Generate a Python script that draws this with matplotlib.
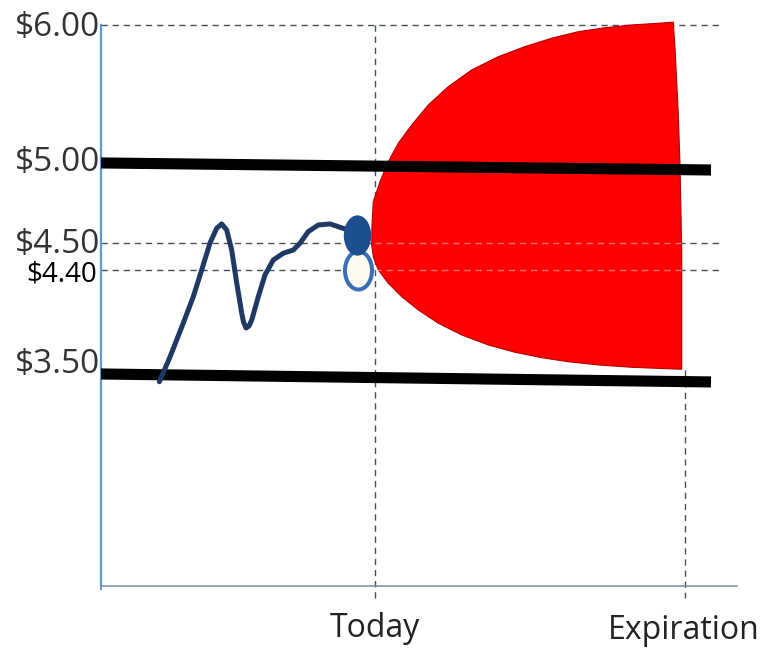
import numpy as np
import matplotlib.pyplot as plt
from matplotlib.markers import MarkerStyle
from matplotlib.path import Path
from matplotlib.transforms import Affine2D

plt.rcParams['font.family'] = ['Open Sans', 'DejaVu Sans']

# price levels marked on the left
tick_prices = [6.00, 5.00, 4.50, 4.40, 3.50]
tick_labels = ["$6.00", "$5.00", "$4.50", "$4.40", "$3.50"]

# days relative to today
today = 0.0
expiration = 31.0

# stock price history up to today
hist_days = [-21.57, -20.5, -19.17, -18.17, -17.33, -16.5, -15.83, -15.33, -14.83,
             -14.33, -13.83, -13.33, -13.15, -12.9, -12.6, -12.33, -11.67, -11.0,
             -10.17, -9.17, -8.17, -7.5, -6.67, -5.67, -4.5, -3.5, -2.67]
hist_price = [3.433, 3.647, 3.941, 4.169, 4.40, 4.50, 4.592, 4.619, 4.581,
              4.474, 4.2875, 4.028, 3.95, 3.898, 3.915, 3.967, 4.169, 4.357,
              4.437, 4.462, 4.474, 4.499, 4.571, 4.6125, 4.619, 4.598, 4.581]

current_day, current_price = -1.8, 4.55
alt_day, alt_price = -1.7, 4.40

# range of possible prices until expiration (outline of the red cone)
cone_days = [-0.33, -0.3, -0.17, 0.5, 1.33, 2.33, 3.67, 5.33, 7.33, 9.67, 12.33,
             15.0, 17.67, 20.33, 23.0, 25.67, 28.33, 29.83,
             30.0, 30.17, 30.33, 30.5, 30.6, 30.67, 30.67, 30.67,
             29.0, 25.67, 22.33, 19.33, 16.67, 14.0, 11.33, 8.67, 6.33, 4.33,
             2.67, 1.33, 0.33, -0.17]
cone_price = [4.493, 4.6125, 4.758, 4.883, 5.009, 5.143, 5.275, 5.420, 5.553,
              5.674, 5.770, 5.843, 5.904, 5.951, 5.980, 6.000, 6.012, 6.020,
              5.833, 5.589, 5.348, 4.988, 4.675, 4.463, 3.967, 3.541,
              3.546, 3.558, 3.578, 3.606, 3.641, 3.688, 3.751, 3.838, 3.939, 4.054,
              4.169, 4.285, 4.40, 4.449]

# strike lines (slightly tilted)
strike_days = [-27.4, 33.6]
strike_hi = [5.00, 4.956]
strike_lo = [3.50, 3.431]

# piecewise vertical scale for the price axis
price_knots = [-50.0, 1.665, 3.50, 4.40, 4.50, 5.00, 6.00, 50.0]
height_knots = [-5970.4, 0.0, 212.0, 316.0, 343.0, 423.0, 561.0, 6633.0]


def forward(p):
    return np.interp(p, price_knots, height_knots)


def inverse(h):
    return np.interp(h, height_knots, price_knots)


fig = plt.figure(figsize=(7.66, 6.52), dpi=100)
ax = fig.add_axes([101 / 766, 66 / 652, 636 / 766, 571 / 652])
ax.set_yscale('function', functions=(forward, inverse))
ax.set_xlim(-27.4, 36.2)
ax.set_ylim(1.665, 6.072)
ax.set_xticks([])
ax.set_yticks([])
ax.minorticks_off()

for s in ['top', 'right']:
    ax.spines[s].set_visible(False)
ax.spines['left'].set_color('#5b9bd5')
ax.spines['left'].set_linewidth(1.6)
ax.spines['left'].set_bounds(1.64, 6.00)
ax.spines['bottom'].set_color('#7d8994')
ax.spines['bottom'].set_linewidth(1.1)

dash = (0, (4.5, 3.5))
gridc = '#46505a'
for p in [6.00, 4.50, 4.40]:
    ax.plot([-27.4, 34.5], [p, p], color=gridc, lw=1.0, ls=dash, zorder=1)
ax.plot([today, today], [6.00, 1.56], color=gridc, lw=1.0, ls=dash,
        zorder=1, clip_on=False)
ax.plot([expiration, expiration], [3.535, 1.56], color=gridc, lw=1.0, ls=dash,
        zorder=1, clip_on=False)

ax.fill(cone_days, cone_price, facecolor='#ff0000', edgecolor='#b30000',
        lw=0.8, zorder=2)
# faint dashes showing through the red
for p in [4.50, 4.40]:
    ax.plot([0, 30.7], [p, p], color='white', alpha=0.45, lw=1.0, ls=dash, zorder=2.5)

ax.plot(strike_days, strike_hi, color='black', lw=8, solid_capstyle='butt', zorder=3)
ax.plot(strike_days, strike_lo, color='black', lw=8, solid_capstyle='butt', zorder=3)

ax.plot(hist_days, hist_price, color='#1f3864', lw=3.6, solid_joinstyle='round',
        solid_capstyle='round', zorder=4)

ell_open = MarkerStyle(Path.unit_circle().transformed(Affine2D().scale(0.71, 1.0)))
ell_fill = MarkerStyle(Path.unit_circle().transformed(Affine2D().scale(0.68, 1.0)))
ax.plot([alt_day], [alt_price], marker=ell_open, ms=27.4, mfc='#fdfaf0',
        mec='#3a6db5', mew=2.9, ls='none', zorder=5)
ax.plot([current_day], [current_price], marker=ell_fill, ms=29, mfc='#1c4f8f',
        mec='none', ls='none', zorder=6)

# price labels
label_dy = [-11, -8, -10, -12, 1]
for p, lab, dy in zip(tick_prices, tick_labels, label_dy):
    small = lab == "$4.40"
    ax.annotate(lab, xy=(0, p), xycoords=('axes fraction', 'data'),
                xytext=(-1 if not small else -4, dy), textcoords='offset pixels',
                ha='right', va='baseline', fontsize=20 if small else 24,
                color='black' if small else '#333333')

# time labels
ax.annotate("Today", xy=(today, 0), xycoords=('data', 'axes fraction'),
            xytext=(0, -51), textcoords='offset pixels', ha='center',
            va='baseline', fontsize=23, color='#222222')
ax.annotate("Expiration", xy=(expiration, 0), xycoords=('data', 'axes fraction'),
            xytext=(-1, -53), textcoords='offset pixels', ha='center',
            va='baseline', fontsize=23, color='#222222')

fig.savefig('out.png', dpi=100)
